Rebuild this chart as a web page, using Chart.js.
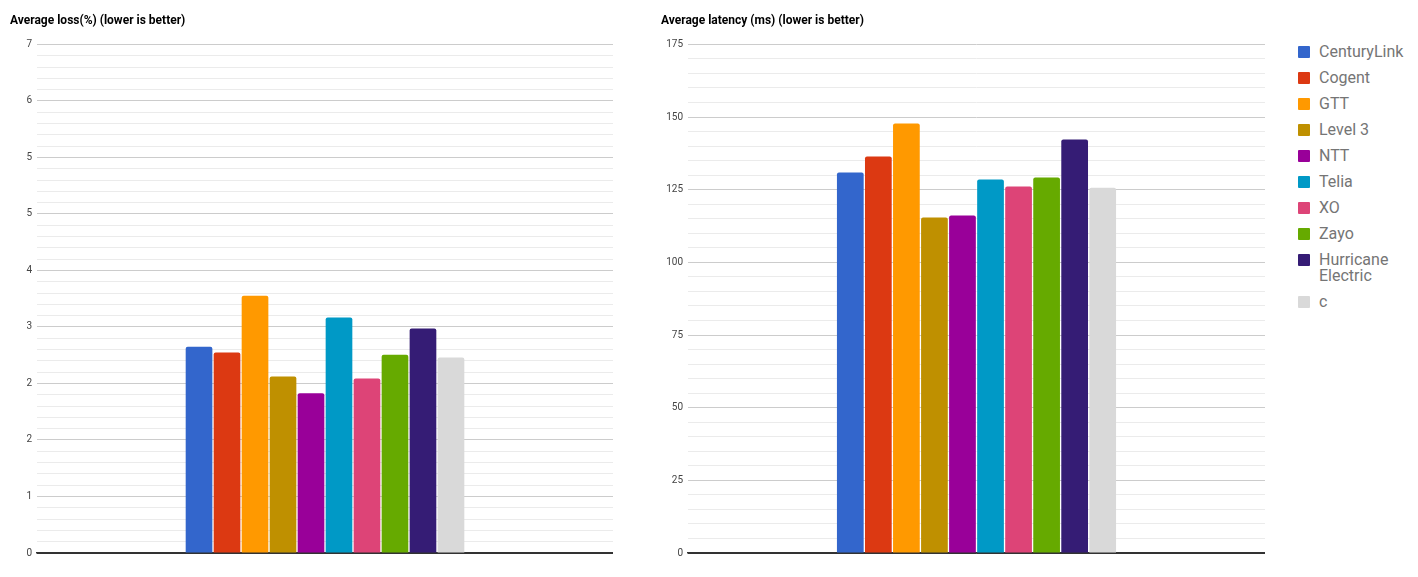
<!DOCTYPE html>
<html>
<head>
<meta charset="utf-8">
<script src="https://cdn.jsdelivr.net/npm/chart.js@4"></script>
<style>
  html, body { margin:0; padding:0; background:#fff; width:1418px; height:577px; overflow:hidden; font-family: Roboto, Arial, sans-serif; }
  canvas { position:absolute; top:0; }
  #lossCanvas { left:10px; }
  #latCanvas { left:661px; }
  #legend { position:absolute; left:1298px; top:44px; }
  .item { display:flex; align-items:flex-start; margin-bottom:10px; }
  .sw { width:12px; height:12px; margin-top:2px; margin-right:9px; flex:none; border-radius:1px; }
  .lbl { font-size:16px; line-height:16px; color:#757575; }
</style>
</head>
<body>
<canvas id="lossCanvas" width="603" height="577"></canvas>
<canvas id="latCanvas" width="604" height="577"></canvas>
<div id="legend"></div>
<script>
const providers = ['CenturyLink','Cogent','GTT','Level 3','NTT','Telia','XO','Zayo','Hurricane Electric','c'];
const legendLines = [['CenturyLink'],['Cogent'],['GTT'],['Level 3'],['NTT'],['Telia'],['XO'],['Zayo'],['Hurricane','Electric'],['c']];
const colors = ['#3366cc','#dc3912','#ff9900','#bf9000','#990099','#0099c6','#dd4477','#66aa00','#351c75','#d9d9d9'];
const lossValues = [2.84, 2.76, 3.54, 2.43, 2.20, 3.24, 2.40, 2.73, 3.09, 2.69];
const latencyValues = [130.9, 136.4, 147.8, 115.4, 116.1, 128.5, 126.1, 129.2, 142.3, 125.7];
const lossTickLabels = ['0','1','2','2','3','4','5','5','6','7'];
const latencyTickLabels = ['0','25','50','75','100','125','150','175'];
const lossMax = 7, latencyMax = 175;
const minorPerMajor = 5;

function makeChart(id, title, values, tickLabels, max, axisWidth) {
  const majors = tickLabels.length - 1;
  const nTicks = majors * minorPerMajor;
  new Chart(document.getElementById(id), {
    type: 'bar',
    data: {
      labels: [''],
      datasets: providers.map((p, i) => ({
        label: p,
        data: [values[i]],
        backgroundColor: colors[i],
        borderRadius: 2,
        borderSkipped: 'start'
      }))
    },
    options: {
      responsive: false,
      animation: false,
      devicePixelRatio: 1,
      categoryPercentage: 0.486,
      barPercentage: 0.953,
      layout: { padding: { left: 0, right: 0, top: 0, bottom: 16 } },
      plugins: {
        legend: { display: false },
        tooltip: { enabled: false },
        title: {
          display: true, text: title, align: 'start', color: '#000',
          font: { family: 'Roboto', size: 12, weight: 'bold', lineHeight: 1.2 },
          padding: { top: 14, bottom: 16 }
        }
      },
      scales: {
        x: {
          grid: { display: false },
          ticks: { display: false },
          border: { display: true, color: '#333', width: 1.5 }
        },
        y: {
          min: 0, max: max,
          afterFit: s => { s.width = axisWidth; },
          afterBuildTicks: s => {
            s.ticks = Array.from({length: nTicks + 1}, (_, i) => ({ value: i * max / nTicks }));
          },
          ticks: {
            autoSkip: false,
            padding: 5,
            color: '#444',
            font: { family: 'Roboto', size: 10 },
            callback: (v, i) => (i % minorPerMajor === 0 ? tickLabels[i / minorPerMajor] : '')
          },
          grid: {
            drawTicks: false,
            color: c => (c.index === 0 ? '#333' : (c.index % minorPerMajor === 0 ? '#cccccc' : '#ebebeb')),
            lineWidth: 1
          },
          border: { display: false }
        }
      }
    }
  });
}

makeChart('lossCanvas', 'Average loss(%) (lower is better)', lossValues, lossTickLabels, lossMax, 27);
makeChart('latCanvas', 'Average latency (ms) (lower is better)', latencyValues, latencyTickLabels, latencyMax, 27);

const legend = document.getElementById('legend');
legendLines.forEach((lines, i) => {
  const item = document.createElement('div');
  item.className = 'item';
  const sw = document.createElement('div');
  sw.className = 'sw';
  sw.style.background = colors[i];
  const lbl = document.createElement('div');
  lbl.className = 'lbl';
  lines.forEach((t, j) => {
    if (j) lbl.appendChild(document.createElement('br'));
    lbl.appendChild(document.createTextNode(t));
  });
  item.appendChild(sw);
  item.appendChild(lbl);
  legend.appendChild(item);
});
</script>
</body>
</html>
